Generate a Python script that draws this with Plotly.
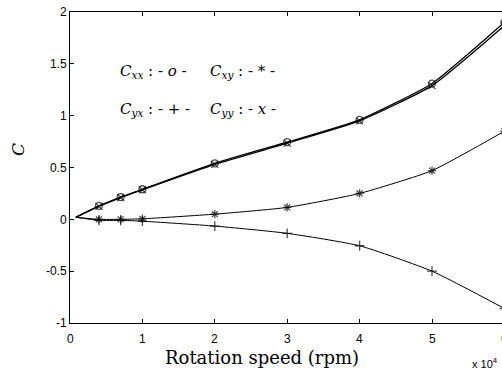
import plotly.graph_objects as go

# Rotation speed (x 10^4 rpm)
speed = [0.08, 0.4, 0.7, 1, 2, 3, 4, 5, 6]
cxx = [0.02, 0.13, 0.215, 0.29, 0.54, 0.745, 0.96, 1.31, 1.9]
cyy = [0.02, 0.125, 0.21, 0.285, 0.53, 0.735, 0.95, 1.29, 1.87]
cxy = [0.02, 0.0, 0.0, 0.005, 0.05, 0.115, 0.25, 0.47, 0.85]
cyx = [0.02, -0.01, -0.01, -0.018, -0.065, -0.135, -0.255, -0.5, -0.86]
y_ticks = [-1, -0.5, 0, 0.5, 1, 1.5, 2]
y_labels = ["-1", "-0.5", "0", "0.5", "1", "1.5", "2"]
x_ticks = [0, 1, 2, 3, 4, 5, 6]
x_labels = ["0", "1", "2", "3", "4", "5", "6"]

W, H = 502, 369
L, R, T, B = 70, 0, 12, 369 - 323
pw, ph = W - L - R, H - T - B
xmax = pw / 72.4

def px(x):
    return (x - L) / pw

def py(y):
    return (H - B - y) / ph

sizes = [0] + [7] * (len(speed) - 1)

fig = go.Figure()
series = [
    (cxx, "circle-open", 1.3),
    (cyy, "x-thin-open", 1.3),
    (cxy, "asterisk-open", 1.0),
    (cyx, "cross-thin-open", 1.0),
]
for vals, sym, lw in series:
    fig.add_trace(go.Scatter(
        x=speed, y=vals, mode="lines+markers",
        line=dict(color="black", width=lw, shape="spline", smoothing=0.5),
        marker=dict(symbol=sym, size=sizes, color="black", line=dict(color="black", width=1.3)),
        showlegend=False,
    ))

axis_font = dict(family="Liberation Sans, Arial", size=12, color="black")
fig.update_layout(
    template="none",
    width=W, height=H,
    margin=dict(l=L, r=R, t=T, b=B),
    paper_bgcolor="white", plot_bgcolor="white",
    xaxis=dict(range=[0, xmax], tickvals=x_ticks, ticks="inside",
               ticklen=4, tickcolor="black", showline=True, linecolor="black",
               linewidth=1, mirror="ticks", showgrid=False, zeroline=False,
               showticklabels=False, automargin=False),
    yaxis=dict(range=[-1, 2], tickvals=y_ticks, ticktext=y_labels, ticks="inside",
               ticklen=4, tickcolor="black", showline=True, linecolor="black",
               linewidth=1, showgrid=False, zeroline=False, tickfont=axis_font,
               automargin=False, ticklabeloverflow="allow"),
    yaxis2=dict(range=[-1, 2], tickvals=y_ticks, overlaying="y", side="right",
                ticks="inside", ticklen=4, tickcolor="black", showline=False,
                showticklabels=False, showgrid=False, zeroline=False,
                automargin=False),
)

# x tick labels placed along the x axis (fraction of the axis range)
for v, lab in zip(x_ticks, x_labels):
    fig.add_annotation(xref="paper", yref="paper", x=v / xmax, y=py(339), text=lab,
                       showarrow=False, xanchor="center", yanchor="middle",
                       font=axis_font)

serif = "DejaVu Serif, Liberation Serif, serif"
ann = [
    dict(x=px(262), y=py(357), text="Rotation speed (rpm)",
         font=dict(family=serif, size=18, color="black")),
    dict(x=px(18), y=py(150), text="<i>C</i>",
         font=dict(family=serif, size=17, color="black"), textangle=-90),
    dict(x=px(470), y=py(363), text="x 10<sup>4</sup>", xanchor="left",
         font=dict(family="Liberation Sans, Arial", size=11, color="black")),
    dict(x=px(118), y=py(71), xanchor="left",
         text="<i>C</i><sub><i>xx</i></sub> : - <i>o</i> -",
         font=dict(family=serif, size=15, color="black")),
    dict(x=px(208), y=py(71), xanchor="left",
         text="<i>C</i><sub><i>xy</i></sub> : - * -",
         font=dict(family=serif, size=15, color="black")),
    dict(x=px(118), y=py(109), xanchor="left",
         text="<i>C</i><sub><i>yx</i></sub> : - + -",
         font=dict(family=serif, size=15, color="black")),
    dict(x=px(208), y=py(109), xanchor="left",
         text="<i>C</i><sub><i>yy</i></sub> : - <i>x</i> -",
         font=dict(family=serif, size=15, color="black")),
]
for a in ann:
    fig.add_annotation(xref="paper", yref="paper", showarrow=False,
                       yanchor="middle", **({"xanchor": "center"} | a))

fig.write_html("out.html", config={"displayModeBar": False, "staticPlot": True},
               post_script="document.body.style.margin='0px';document.body.style.overflow='hidden';")
